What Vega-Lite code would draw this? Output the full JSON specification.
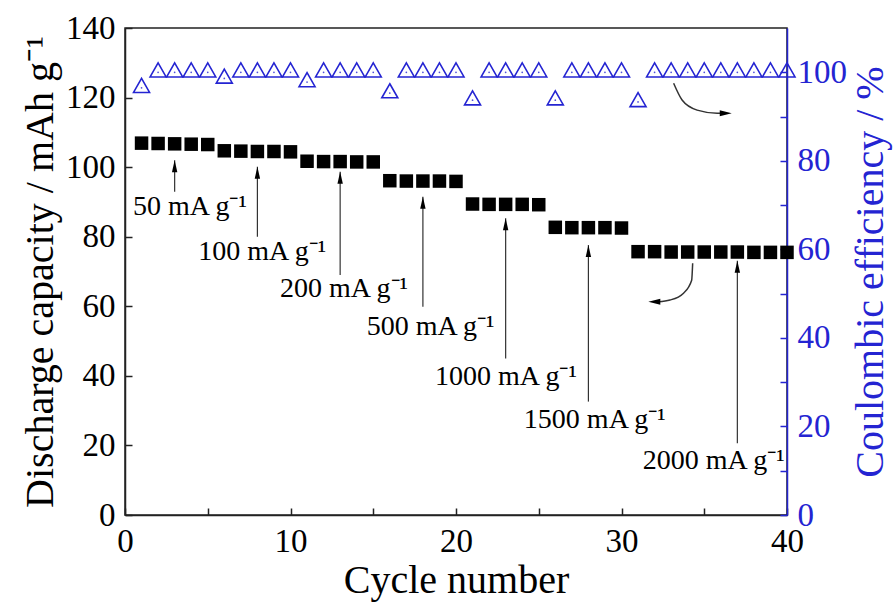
{
  "$schema": "https://vega.github.io/schema/vega-lite/v6.json",
  "width": 662,
  "height": 487,
  "autosize": "none",
  "padding": {"left": 125, "top": 28, "right": 107, "bottom": 91},
  "background": "white",
  "config": {
    "view": {"stroke": "#222", "strokeWidth": 1.5},
    "font": "Liberation Serif",
    "axis": {
      "labelFont": "Liberation Serif",
      "titleFont": "Liberation Serif",
      "labelFontSize": 33,
      "titleFontSize": 40,
      "titleFontWeight": "normal",
      "labelColor": "black",
      "titleColor": "black",
      "domainColor": "#222",
      "domainWidth": 1.5,
      "tickColor": "#222",
      "tickWidth": 1.5,
      "grid": false,
      "labelFlush": false,
      "labelOverlap": false
    }
  },
  "datasets": {
    "capacity": [
      {"cycle": 1, "cap": 106.9}, {"cycle": 2, "cap": 106.8}, {"cycle": 3, "cap": 106.7}, {"cycle": 4, "cap": 106.6}, {"cycle": 5, "cap": 106.5},
      {"cycle": 6, "cap": 104.7}, {"cycle": 7, "cap": 104.6}, {"cycle": 8, "cap": 104.5}, {"cycle": 9, "cap": 104.5}, {"cycle": 10, "cap": 104.4},
      {"cycle": 11, "cap": 101.7}, {"cycle": 12, "cap": 101.6}, {"cycle": 13, "cap": 101.6}, {"cycle": 14, "cap": 101.5}, {"cycle": 15, "cap": 101.5},
      {"cycle": 16, "cap": 96.1}, {"cycle": 17, "cap": 96.0}, {"cycle": 18, "cap": 96.0}, {"cycle": 19, "cap": 96.0}, {"cycle": 20, "cap": 95.9},
      {"cycle": 21, "cap": 89.4}, {"cycle": 22, "cap": 89.3}, {"cycle": 23, "cap": 89.3}, {"cycle": 24, "cap": 89.3}, {"cycle": 25, "cap": 89.2},
      {"cycle": 26, "cap": 82.7}, {"cycle": 27, "cap": 82.6}, {"cycle": 28, "cap": 82.6}, {"cycle": 29, "cap": 82.6}, {"cycle": 30, "cap": 82.5},
      {"cycle": 31, "cap": 75.7}, {"cycle": 32, "cap": 75.7}, {"cycle": 33, "cap": 75.6}, {"cycle": 34, "cap": 75.6}, {"cycle": 35, "cap": 75.6},
      {"cycle": 36, "cap": 75.6}, {"cycle": 37, "cap": 75.6}, {"cycle": 38, "cap": 75.5}, {"cycle": 39, "cap": 75.5}, {"cycle": 40, "cap": 75.5}
    ],
    "efficiency": [
      {"cycle": 1, "ce": 96.5}, {"cycle": 2, "ce": 100}, {"cycle": 3, "ce": 100}, {"cycle": 4, "ce": 100}, {"cycle": 5, "ce": 100},
      {"cycle": 6, "ce": 98.6}, {"cycle": 7, "ce": 100}, {"cycle": 8, "ce": 100}, {"cycle": 9, "ce": 100}, {"cycle": 10, "ce": 100},
      {"cycle": 11, "ce": 97.8}, {"cycle": 12, "ce": 100}, {"cycle": 13, "ce": 100}, {"cycle": 14, "ce": 100}, {"cycle": 15, "ce": 100},
      {"cycle": 16, "ce": 95.3}, {"cycle": 17, "ce": 100}, {"cycle": 18, "ce": 100}, {"cycle": 19, "ce": 100}, {"cycle": 20, "ce": 100},
      {"cycle": 21, "ce": 93.7}, {"cycle": 22, "ce": 100}, {"cycle": 23, "ce": 100}, {"cycle": 24, "ce": 100}, {"cycle": 25, "ce": 100},
      {"cycle": 26, "ce": 93.7}, {"cycle": 27, "ce": 100}, {"cycle": 28, "ce": 100}, {"cycle": 29, "ce": 100}, {"cycle": 30, "ce": 100},
      {"cycle": 31, "ce": 93.3}, {"cycle": 32, "ce": 100}, {"cycle": 33, "ce": 100}, {"cycle": 34, "ce": 100}, {"cycle": 35, "ce": 100},
      {"cycle": 36, "ce": 100}, {"cycle": 37, "ce": 100}, {"cycle": 38, "ce": 100}, {"cycle": 39, "ce": 100}, {"cycle": 40, "ce": 100}
    ],
    "arrows": [
      {"cycle": 3, "from": 92.9, "to": 102.0},
      {"cycle": 8, "from": 80.0, "to": 100.1},
      {"cycle": 13, "from": 69.0, "to": 98.7},
      {"cycle": 18, "from": 59.9, "to": 91.5},
      {"cycle": 23, "from": 45.0, "to": 85.3},
      {"cycle": 28, "from": 32.6, "to": 77.6},
      {"cycle": 37, "from": 20.6, "to": 73.1}
    ],
    "labels": [
      {"label": "50 mA g⁻¹", "cycle": 0.48, "cap": 86.2},
      {"label": "100 mA g⁻¹", "cycle": 4.43, "cap": 73.3},
      {"label": "200 mA g⁻¹", "cycle": 9.37, "cap": 62.6},
      {"label": "500 mA g⁻¹", "cycle": 14.6, "cap": 51.7},
      {"label": "1000 mA g⁻¹", "cycle": 18.73, "cap": 37.4},
      {"label": "1500 mA g⁻¹", "cycle": 24.1, "cap": 25.1},
      {"label": "2000 mA g⁻¹", "cycle": 31.28, "cap": 13.1}
    ],
    "curves": [
      {"curve": "a", "i": 1, "cycle": 33.15, "cap": 124.1},
      {"curve": "a", "i": 2, "cycle": 33.66, "cap": 119.3},
      {"curve": "a", "i": 3, "cycle": 34.57, "cap": 116.4},
      {"curve": "a", "i": 4, "cycle": 35.78, "cap": 115.5},
      {"curve": "a", "i": 5, "cycle": 36.1, "cap": 115.5},
      {"curve": "b", "i": 1, "cycle": 34.30, "cap": 72.35},
      {"curve": "b", "i": 2, "cycle": 34.24, "cap": 67.5},
      {"curve": "b", "i": 3, "cycle": 33.73, "cap": 63.7},
      {"curve": "b", "i": 4, "cycle": 32.93, "cap": 61.8},
      {"curve": "b", "i": 5, "cycle": 32.22, "cap": 61.3}
    ],
    "heads": [
      {"dir": "right", "cycle": 36.66, "cap": 115.5},
      {"dir": "left", "cycle": 31.62, "cap": 61.3}
    ]
  },
  "layer": [
    {
      "layer": [
        {
          "data": {"name": "capacity"},
          "mark": {"type": "point", "shape": "square", "filled": true, "size": 182, "color": "black", "opacity": 1},
          "encoding": {
            "x": {"field": "cycle", "type": "quantitative", "scale": {"domain": [0, 40], "nice": false, "zero": false},
              "title": "Cycle number",
              "axis": {"values": [0, 5, 10, 15, 20, 25, 30, 35, 40], "labelExpr": "datum.value % 10 === 0 ? datum.label : ''",
                "tickSize": -7, "labelPadding": 17, "titlePadding": 2}},
            "y": {"field": "cap", "type": "quantitative", "scale": {"domain": [0, 140], "nice": false},
              "title": "Discharge capacity / mAh g⁻¹",
              "axis": {"orient": "left", "values": [0, 10, 20, 30, 40, 50, 60, 70, 80, 90, 100, 110, 120, 130, 140],
                "labelExpr": "datum.value % 20 === 0 ? datum.label : ''", "tickSize": -7, "labelPadding": 17, "titlePadding": 5}}
          }
        },
        {
          "data": {"name": "arrows"},
          "mark": {"type": "rule", "color": "#333", "strokeWidth": 1.2},
          "encoding": {
            "x": {"field": "cycle", "type": "quantitative", "title": "Cycle number"},
            "y": {"field": "from", "type": "quantitative", "title": "Discharge capacity / mAh g⁻¹"},
            "y2": {"field": "to"}
          }
        },
        {
          "data": {"name": "arrows"},
          "mark": {"type": "point", "shape": "M0,0L0.45,2L-0.45,2Z", "filled": true, "size": 144, "color": "black", "opacity": 1},
          "encoding": {
            "x": {"field": "cycle", "type": "quantitative", "title": "Cycle number"},
            "y": {"field": "to", "type": "quantitative", "title": "Discharge capacity / mAh g⁻¹"}
          }
        },
        {
          "data": {"name": "curves"},
          "mark": {"type": "line", "color": "#333", "strokeWidth": 1.5, "interpolate": "monotone"},
          "encoding": {
            "x": {"field": "cycle", "type": "quantitative", "title": "Cycle number"},
            "y": {"field": "cap", "type": "quantitative", "title": "Discharge capacity / mAh g⁻¹"},
            "detail": {"field": "curve"}
          }
        },
        {
          "data": {"name": "heads"},
          "mark": {"type": "point", "filled": true, "size": 144, "color": "black", "opacity": 1},
          "encoding": {
            "x": {"field": "cycle", "type": "quantitative", "title": "Cycle number"},
            "y": {"field": "cap", "type": "quantitative", "title": "Discharge capacity / mAh g⁻¹"},
            "shape": {"field": "dir", "type": "nominal", "scale": {"domain": ["right", "left"], "range": ["M0,0L-2,-0.5L-2,0.5Z", "M0,0L2,-0.5L2,0.5Z"]}, "legend": null}
          }
        },
        {
          "data": {"name": "labels"},
          "mark": {"type": "text", "align": "left", "baseline": "alphabetic", "fontSize": 28, "font": "Liberation Serif", "color": "black"},
          "encoding": {
            "x": {"field": "cycle", "type": "quantitative", "title": "Cycle number"},
            "y": {"field": "cap", "type": "quantitative", "title": "Discharge capacity / mAh g⁻¹"},
            "text": {"field": "label"}
          }
        }
      ]
    },
    {
      "data": {"name": "efficiency"},
      "layer": [
        {
          "mark": {"type": "point", "shape": "M0,-1.167L1,0.583L-1,0.583Z", "filled": false, "size": 256, "stroke": "#2424d2", "strokeWidth": 1.6, "opacity": 1},
          "encoding": {
            "x": {"field": "cycle", "type": "quantitative", "title": "Cycle number"},
            "y": {"field": "ce", "type": "quantitative", "scale": {"domain": [0, 110], "nice": false},
              "title": "Coulombic efficiency / %",
              "axis": {"orient": "right", "values": [0, 10, 20, 30, 40, 50, 60, 70, 80, 90, 100],
                "labelExpr": "datum.value % 20 === 0 ? datum.label : ''", "tickSize": -7, "labelPadding": 17, "titlePadding": 4,
                "titleAngle": 270, "titleBaseline": "top",
                "domainColor": "#2424d2", "tickColor": "#2424d2", "labelColor": "#2424d2", "titleColor": "#2424d2"}}
          }
        },
        {
          "mark": {"type": "point", "shape": "circle", "filled": true, "size": 3, "color": "#2424d2", "opacity": 0.8},
          "encoding": {
            "x": {"field": "cycle", "type": "quantitative", "title": "Cycle number"},
            "y": {"field": "ce", "type": "quantitative", "title": "Coulombic efficiency / %"}
          }
        }
      ]
    }
  ],
  "resolve": {"scale": {"y": "independent"}}
}
